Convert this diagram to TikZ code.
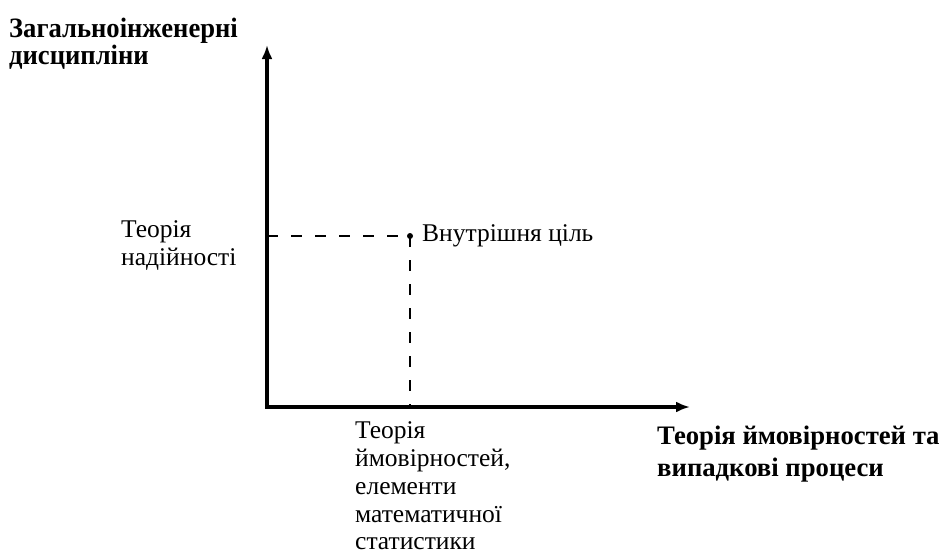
\documentclass[tikz,border=0pt]{standalone}
\usepackage{fontspec}
\setmainfont{Liberation Serif}
\newfontfamily\condbold[FakeStretch=0.95]{Liberation Serif Bold}
\usetikzlibrary{arrows.meta}
\begin{document}
\begin{tikzpicture}[x=1pt,y=-1pt,
  lbl/.style={inner sep=0pt,anchor=base west,font=\fontsize{25.5}{29}\selectfont},
  blbl/.style={inner sep=0pt,anchor=base west,font=\fontsize{26.7}{31}\selectfont\bfseries},
  clbl/.style={inner sep=0pt,anchor=base west,font=\fontsize{28}{30}\selectfont\condbold},
  axis/.style={line width=4pt,-{Latex[length=14pt,width=11pt]}},
  guide/.style={line width=1.2pt,dash pattern=on 11pt off 13pt}]
\useasboundingbox (0,0) rectangle (942,557);
\coordinate (O) at (267,407);
\coordinate (ytip) at (267,45);
\coordinate (xtip) at (690,407);
\coordinate (yfoot) at (267,236);
\coordinate (xfoot) at (410,407);
\node[circle,fill=black,inner sep=0pt,minimum size=6pt] (dot) at (410,236) {};
\draw[axis] ([yshift=2pt]O) -- (ytip);
\draw[axis] ([xshift=-2pt]O) -- (xtip);
\draw[guide] (yfoot) -- (dot.center);
\draw[guide] (dot.center) -- (xfoot);
\node[clbl] (ya1) at (9,37) {Загальноінженерні};
\node[clbl] (ya2) at (9,64) {дисципліни};
\node[lbl] (t1) at (121,237) {Теорія};
\node[lbl] (t2) at (121,265) {надійності};
\node[lbl] (goal) at (422,241) {Внутрішня ціль};
\node[lbl] (b1) at (355,438) {Теорія};
\node[lbl] (b2) at (355,466) {ймовірностей,};
\node[lbl] (b3) at (355,494) {елементи};
\node[lbl] (b4) at (355,522) {математичної};
\node[lbl] (b5) at (355,549) {статистики};
\node[blbl] (xa1) at (657,444) {Теорія ймовірностей та};
\node[blbl] (xa2) at (657,476) {випадкові процеси};
\end{tikzpicture}
\end{document}
